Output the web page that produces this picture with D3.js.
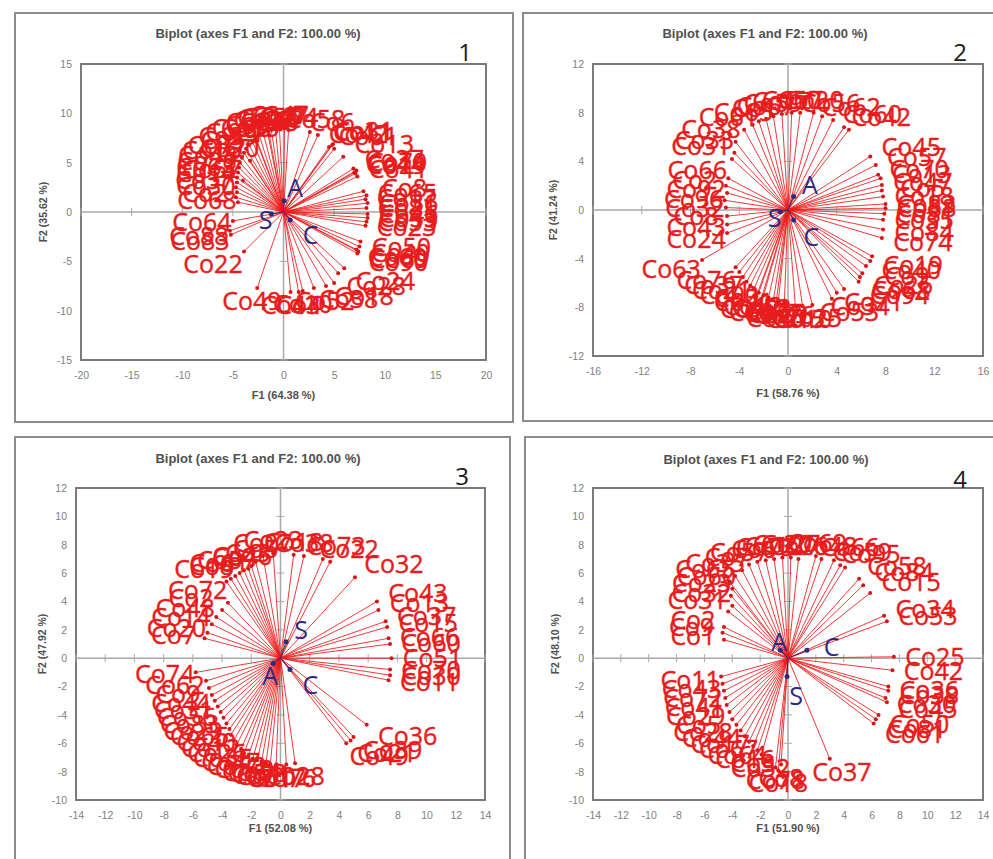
<!DOCTYPE html>
<html>
<head>
<meta charset="utf-8">
<script src="https://cdn.jsdelivr.net/npm/d3@7"></script>
<style>
  body { margin: 0; background: #fff; }
</style>
</head>
<body>
<div id="chart"></div>
<script>

//variables shown as blue points in every biplot
var varNames = ["A", "S", "C"];

//panel 1
var p1Names = ["Co46","Co81","Co36","Co17","Co65","Co8","Co41","Co19","Co70","Co27","Co44","Co13","Co61","Co11","Co42","Co31","Co6","Co58","Co74","Co7","Co47","Co3","Co55","Co12","Co29","Co54","Co9","Co66","Co21","Co39","Co5","Co71","Co16","Co48","Co26","Co63","Co14","Co37","Co30","Co2","Co68","Co59","Co35","Co20","Co57","Co64","Co88","Co83","Co22","Co49","Co43","Co4","Co10","Co52","Co38","Co18","Co28","Co24","Co60","Co69","Co40","Co50","Co90","Co53","Co33","Co23"];
var p1F1 = [8.3,8.2,8.3,8.1,8.2,7.9,7.3,7.1,7.2,6.9,7.0,5.9,5.0,4.8,4.5,4.9,3.4,2.6,0.5,0.1,-0.4,-0.8,-1.2,-1.6,-2.0,-2.4,-2.8,-3.1,-3.4,-3.7,-3.9,-4.1,-4.3,-4.4,-4.5,-4.6,-4.6,-4.7,-4.6,-4.7,-4.5,-2.6,-1.4,-3.3,-4.0,-5.0,-5.3,-5.2,-3.9,-2.6,0.7,1.5,1.9,3.0,4.2,5.0,5.4,6.0,7.2,7.4,7.5,7.6,7.3,8.2,8.3,8.1];
var p1F2 = [-0.2,0.4,0.9,1.3,1.7,2.1,3.6,3.9,4.2,4.4,4.0,5.6,6.4,6.8,6.6,6.9,7.8,8.1,8.3,8.5,8.5,8.4,8.3,8.2,8.0,7.8,7.5,7.2,6.8,6.4,6.0,5.5,5.0,4.5,4.0,3.5,3.0,2.5,2.0,1.5,1.0,7.2,7.8,5.2,3.2,-0.9,-1.9,-2.3,-4.0,-7.7,-8.1,-8.1,-8.0,-7.7,-7.5,-7.2,-6.2,-5.7,-3.8,-4.0,-3.5,-3.0,-4.2,-1.0,-0.6,-1.4];
var p1VarF1 = [0.07, -1.2, 0.66];
var p1VarF2 = [1.15, -0.2, -0.8];
var p1XTicks = [-20, -15, -10, -5, 0, 5, 10, 15, 20];
var p1YTicks = [-15, -10, -5, 0, 5, 10, 15];

//panel 2
var p2Names = ["Co88","Co83","Co81","Co18","Co5","Co47","Co13","Co70","Co57","Co45","Co35","Co84","Co74","Co19","Co40","Co9","Co26","Co68","Co94","Co71","Co34","Co53","Co25","Co10","Co15","Co16","Co30","Co29","Co77","Co6","Co52","Co87","Co12","Co48","Co41","Co3","Co90","Co21","Co37","Co76","Co63","Co24","Co43","Co8","Co32","Co96","Co92","Co2","Co66","Co31","Co33","Co38","Co61","Co65","Co1","Co67","Co59","Co17","Co50","Co7","Co56","Co62","Co60","Co42","Co20"];
var p2F1 = [8.0,8.0,7.9,7.8,7.7,7.7,7.6,7.4,7.2,6.75,7.8,7.8,7.7,6.9,6.75,6.4,6.1,5.9,5.8,4.6,4.0,3.6,2.0,1.2,0.6,-0.3,-1.0,-0.8,-1.2,-1.6,-2.0,-2.2,-2.4,-2.6,-2.8,-3.1,-3.4,-3.7,-4.0,-4.3,-7.05,-5.0,-5.0,-5.0,-5.1,-5.2,-5.0,-5.1,-4.9,-4.6,-4.4,-4.3,-3.6,-2.9,-2.4,-1.8,-1.2,-0.5,0.3,1.0,2.8,3.7,4.6,5.0,2.1];
var p2F2 = [0.15,0.5,-0.3,1.1,1.6,2.05,2.6,2.9,3.7,4.4,-0.8,-1.6,-2.3,-3.8,-4.2,-4.6,-5.2,-5.5,-5.9,-6.5,-6.8,-7.3,-7.8,-7.9,-7.9,-7.6,-7.8,-7.5,-7.4,-7.2,-7.0,-7.3,-6.8,-7.1,-6.5,-6.2,-5.9,-5.5,-5.1,-4.7,-4.1,-1.9,-1.2,-0.5,0.2,0.8,1.4,2.0,2.6,4.2,4.7,5.6,6.6,7.0,7.3,7.5,7.7,7.9,8.0,8.0,7.7,7.4,6.8,6.6,8.0];
var p2VarF1 = [0.46, -0.63, 0.46];
var p2VarF2 = [1.1, -0.14, -0.82];
var p2XTicks = [-16, -12, -8, -4, 0, 4, 8, 12, 16];
var p2YTicks = [-12, -8, -4, 0, 4, 8, 12];

//panel 3
var p3Names = ["Co43","Co13","Co37","Co15","Co66","Co60","Co51","Co70","Co30","Co11","Co32","Co73","Co22","Co38","Co18","Co23","Co27","Co5","Co3","Co46","Co4","Co57","Co61","Co8","Co19","Co72","Co2","Co48","Co14","Co20","Co7","Co74","Co62","Co9","Co44","Co31","Co56","Co83","Co29","Co65","Co40","Co12","Co26","Co35","Co47","Co53","Co59","Co64","Co68","Co71","Co10","Co1","Co17","Co76","Co28","Co36","Co21","Co39","Co49"];
var p3F1 = [6.6,6.7,7.2,7.3,7.4,7.5,7.6,7.5,7.5,7.4,5.1,2.9,3.4,1.6,0.9,-0.5,-1.2,-1.7,-2.0,-2.2,-2.5,-2.8,-3.1,-3.4,-3.7,-3.6,-4.0,-4.4,-4.7,-5.0,-5.2,-5.8,-5.1,-4.9,-4.7,-4.5,-4.3,-4.1,-3.9,-3.7,-3.5,-3.4,-3.2,-3.0,-2.7,-2.5,-2.2,-1.9,-1.6,-1.3,-1.0,-0.7,-0.3,0.4,1.0,5.9,4.8,5.0,4.5];
var p3F2 = [4.0,3.4,2.6,2.2,1.4,1.0,0.0,-0.8,-1.2,-1.55,5.7,7.0,6.8,7.2,7.3,7.4,7.2,6.8,6.5,6.3,6.2,6.0,5.8,5.6,5.4,3.9,3.4,2.9,2.4,1.8,1.4,-1.0,-1.6,-2.1,-2.6,-3.0,-3.4,-3.8,-4.2,-4.6,-5.0,-5.4,-5.8,-6.1,-6.4,-6.7,-6.9,-7.1,-7.2,-7.3,-7.4,-7.5,-7.5,-7.5,-7.4,-4.7,-5.8,-5.55,-6.0];
var p3VarF1 = [-0.5, 0.38, 0.65];
var p3VarF2 = [-0.37, 1.15, -0.8];
var p3XTicks = [-14, -12, -10, -8, -6, -4, -2, 0, 2, 4, 6, 8, 10, 12, 14];
var p3YTicks = [-10, -8, -6, -4, -2, 0, 2, 4, 6, 8, 10, 12];

//panel 4
var p4Names = ["Co25","Co42","Co36","Co38","Co30","Co45","Co81","Co50","Co61","Co34","Co53","Co15","Co84","Co58","Co95","Co59","Co66","Co48","Co69","Co76","Co27","Co20","Co12","Co73","Co6","Co57","Co7","Co35","Co65","Co60","Co23","Co32","Co31","Co2","Co9","Co1","Co11","Co43","Co72","Co41","Co29","Co5","Co28","Co44","Co17","Co67","Co64","Co16","Co3","Co52","Co78","Co18","Co8","Co37"];
var p4F1 = [7.6,7.5,7.2,7.2,7.0,7.1,6.3,6.5,6.15,6.9,7.1,5.9,5.4,5.1,4.1,3.75,3.3,2.4,2.0,0.75,0.2,-0.4,-1.0,-1.6,-2.2,-2.8,-3.3,-3.8,-4.2,-4.0,-4.1,-4.0,-4.3,-4.6,-4.7,-4.6,-4.8,-4.7,-4.6,-4.5,-4.4,-4.2,-4.0,-3.7,-3.4,-3.1,-2.8,-2.5,-2.2,-1.9,-0.9,-0.7,-0.5,3.0];
var p4F2 = [0.1,-0.85,-2.0,-2.3,-2.8,-3.1,-4.3,-4.0,-4.6,3.0,2.6,4.6,5.15,5.6,6.4,6.55,6.9,7.0,7.2,7.0,7.1,7.1,7.0,6.9,6.8,6.6,6.2,5.8,5.4,4.9,4.4,3.7,3.3,2.2,1.8,1.3,-1.3,-1.8,-2.3,-2.8,-3.3,-3.8,-4.3,-4.7,-5.1,-5.5,-5.9,-6.2,-6.5,-6.8,-7.7,-7.9,-7.5,-7.1];
var p4VarF1 = [-0.55, -0.07, 1.36];
var p4VarF2 = [0.56, -1.3, 0.56];
var p4XTicks = [-14, -12, -10, -8, -6, -4, -2, 0, 2, 4, 6, 8, 10, 12, 14];
var p4YTicks = [-10, -8, -6, -4, -2, 0, 2, 4, 6, 8, 10, 12];

var chartTitle = "Biplot (axes F1 and F2: 100.00 %)";

var svg = d3.select("#chart").append("svg")
  .attr("width", 993)
  .attr("height", 859);

var drawBiplot = function(o){

  var g = svg.append("g");

  //outer frame of the panel
  g.append("rect")
    .attr("x", o.box[0]).attr("y", o.box[1])
    .attr("width", o.box[2] - o.box[0]).attr("height", o.box[3] - o.box[1])
    .attr("fill", "#fff").attr("stroke", "#8c8c8c").attr("stroke-width", 2);

  //scales
  var xScale = d3.scaleLinear().domain(o.xDomain).range([o.plot[0], o.plot[2]]);
  var yScale = d3.scaleLinear().domain(o.yDomain).range([o.plot[3], o.plot[1]]);
  var x0 = xScale(0), y0 = yScale(0);

  //tick labels around the plot area
  var xAxis = d3.axisBottom(xScale).tickValues(o.xTicks).tickSize(0).tickPadding(12)
    .tickFormat(function(d){ return String(d); });
  var yAxis = d3.axisLeft(yScale).tickValues(o.yTicks).tickSize(0).tickPadding(9)
    .tickFormat(function(d){ return String(d); });

  g.append("g").attr("transform", "translate(0," + o.plot[3] + ")").call(xAxis);
  g.append("g").attr("transform", "translate(" + o.plot[0] + ",0)").call(yAxis);
  g.selectAll(".domain").remove();
  g.selectAll(".tick text")
    .attr("font-family", "Liberation Sans, Arial, sans-serif")
    .attr("font-size", 10.5)
    .attr("fill", "#808080");

  //plot border
  g.append("rect")
    .attr("x", o.plot[0]).attr("y", o.plot[1])
    .attr("width", o.plot[2] - o.plot[0]).attr("height", o.plot[3] - o.plot[1])
    .attr("fill", "none").attr("stroke", "#7a7a7a").attr("stroke-width", 2);

  //zero lines with small tick marks
  g.append("line").attr("x1", o.plot[0]).attr("x2", o.plot[2]).attr("y1", y0).attr("y2", y0)
    .attr("stroke", "#a8a8a8").attr("stroke-width", 1.5);
  g.append("line").attr("x1", x0).attr("x2", x0).attr("y1", o.plot[1]).attr("y2", o.plot[3])
    .attr("stroke", "#a8a8a8").attr("stroke-width", 1.5);
  g.selectAll(".xmark").data(o.xTicks).enter().append("line")
    .attr("x1", function(d){ return xScale(d); }).attr("x2", function(d){ return xScale(d); })
    .attr("y1", y0 - 4).attr("y2", y0 + 4)
    .attr("stroke", "#a8a8a8").attr("stroke-width", 1);
  g.selectAll(".ymark").data(o.yTicks).enter().append("line")
    .attr("y1", function(d){ return yScale(d); }).attr("y2", function(d){ return yScale(d); })
    .attr("x1", x0 - 4).attr("x2", x0 + 4)
    .attr("stroke", "#a8a8a8").attr("stroke-width", 1);

  var obs = o.names.map(function(n, i){ return {name: n, f1: o.f1[i], f2: o.f2[i]}; });

  //rays from the origin
  g.selectAll(".ray").data(obs).enter().append("line")
    .attr("x1", x0).attr("y1", y0)
    .attr("x2", function(d){ return xScale(d.f1); })
    .attr("y2", function(d){ return yScale(d.f2); })
    .attr("stroke", "#f01818").attr("stroke-width", 1).attr("opacity", 0.85);

  g.selectAll(".tip").data(obs).enter().append("circle")
    .attr("cx", function(d){ return xScale(d.f1); })
    .attr("cy", function(d){ return yScale(d.f2); })
    .attr("r", 2).attr("fill", "#d81414");

  //labels pushed outwards from each point (a bit further on the right side)
  var clamp = function(v){ return Math.max(0, Math.min(1, v)); };
  g.selectAll(".lab").data(obs).enter().append("text")
    .attr("x", function(d){
      var px = xScale(d.f1) - x0, py = yScale(d.f2) - y0;
      var c = px / Math.hypot(px, py);
      var k = Math.sign(c) * clamp((Math.abs(c) - 0.25) / 0.45);
      return xScale(d.f1) + k * (k > 0 ? 41 : 31);
    })
    .attr("y", function(d){
      var px = xScale(d.f1) - x0, py = yScale(d.f2) - y0;
      var s = -py / Math.hypot(px, py);
      return yScale(d.f2) - Math.sign(s) * clamp((Math.abs(s) - 0.1) / 0.6) * 13;
    })
    .attr("dy", "0.36em")
    .attr("text-anchor", "middle")
    .attr("font-family", "Open Sans, sans-serif")
    .attr("font-size", 25)
    .attr("fill", "#e81c1c")
    .attr("stroke", "#e81c1c").attr("stroke-width", 0.4)
    .text(function(d){ return d.name; });

  //variables
  var vars = varNames.map(function(n, i){ return {name: n, f1: o.vf1[i], f2: o.vf2[i]}; });
  g.selectAll(".vline").data(vars).enter().append("line")
    .attr("x1", x0).attr("y1", y0)
    .attr("x2", function(d){ return xScale(d.f1); })
    .attr("y2", function(d){ return yScale(d.f2); })
    .attr("stroke", "#2a2a80").attr("stroke-width", 1);
  g.selectAll(".vdot").data(vars).enter().append("circle")
    .attr("cx", function(d){ return xScale(d.f1); })
    .attr("cy", function(d){ return yScale(d.f2); })
    .attr("r", 2.5).attr("fill", "#2a2a80");
  g.selectAll(".vlab").data(vars).enter().append("text")
    .attr("x", function(d){
      var px = xScale(d.f1) - x0, py = yScale(d.f2) - y0;
      return xScale(d.f1) + 16 * px / Math.hypot(px, py) + 10;
    })
    .attr("y", function(d){
      var px = xScale(d.f1) - x0, py = yScale(d.f2) - y0;
      return yScale(d.f2) + 16 * py / Math.hypot(px, py) + 3;
    })
    .attr("dy", "0.36em")
    .attr("text-anchor", "middle")
    .attr("font-family", "Open Sans, sans-serif")
    .attr("font-size", 25)
    .attr("fill", "#2a2a80")
    .text(function(d){ return d.name; });

  //titles
  g.append("text").attr("x", o.title[0]).attr("y", o.title[1]).attr("dy", "0.35em")
    .attr("text-anchor", "middle")
    .attr("font-family", "Liberation Sans, Arial, sans-serif")
    .attr("font-size", 13).attr("font-weight", "bold").attr("fill", "#505050")
    .text(chartTitle);

  g.append("text").attr("x", o.num[0]).attr("y", o.num[1])
    .attr("text-anchor", "middle")
    .attr("font-family", "Open Sans, sans-serif")
    .attr("font-size", 24).attr("fill", "#1a1a1a")
    .text(o.numText);

  g.append("text").attr("x", x0).attr("y", o.xTitleY).attr("dy", "0.35em")
    .attr("text-anchor", "middle")
    .attr("font-family", "Liberation Sans, Arial, sans-serif")
    .attr("font-size", 11).attr("font-weight", "bold").attr("fill", "#505050")
    .text(o.xTitle);

  var yMid = (o.plot[1] + o.plot[3]) / 2;
  g.append("text")
    .attr("transform", "translate(" + o.yTitleX + "," + yMid + ") rotate(-90)")
    .attr("dy", "0.35em")
    .attr("text-anchor", "middle")
    .attr("font-family", "Liberation Sans, Arial, sans-serif")
    .attr("font-size", 10.5).attr("font-weight", "bold").attr("fill", "#505050")
    .text(o.yTitle);
};

drawBiplot({box: [15, 13, 513, 422], plot: [81, 64, 486, 360], xDomain: [-20, 20], yDomain: [-15, 15],
  xTicks: p1XTicks, yTicks: p1YTicks, names: p1Names, f1: p1F1, f2: p1F2, vf1: p1VarF1, vf2: p1VarF2,
  title: [258, 33], num: [465, 61], numText: "1", xTitle: "F1 (64.38 %)", yTitle: "F2 (35.62 %)", xTitleY: 395, yTitleX: 43});

drawBiplot({box: [523, 13, 1003, 421], plot: [593, 64, 983, 356], xDomain: [-16, 16], yDomain: [-12, 12],
  xTicks: p2XTicks, yTicks: p2YTicks, names: p2Names, f1: p2F1, f2: p2F2, vf1: p2VarF1, vf2: p2VarF2,
  title: [765, 33], num: [960, 61], numText: "2", xTitle: "F1 (58.76 %)", yTitle: "F2 (41.24 %)", xTitleY: 393, yTitleX: 553});

drawBiplot({box: [15, 437, 510, 880], plot: [76, 488, 485, 800], xDomain: [-14, 14], yDomain: [-10, 12],
  xTicks: p3XTicks, yTicks: p3YTicks, names: p3Names, f1: p3F1, f2: p3F2, vf1: p3VarF1, vf2: p3VarF2,
  title: [258, 458], num: [462, 485], numText: "3", xTitle: "F1 (52.08 %)", yTitle: "F2 (47.92 %)", xTitleY: 828, yTitleX: 42});

drawBiplot({box: [525, 437, 1003, 880], plot: [593, 488, 983, 800], xDomain: [-14, 14], yDomain: [-10, 12],
  xTicks: p4XTicks, yTicks: p4YTicks, names: p4Names, f1: p4F1, f2: p4F2, vf1: p4VarF1, vf2: p4VarF2,
  title: [766, 459], num: [960, 488], numText: "4", xTitle: "F1 (51.90 %)", yTitle: "F2 (48.10 %)", xTitleY: 828, yTitleX: 555});

</script>
</body>
</html>
